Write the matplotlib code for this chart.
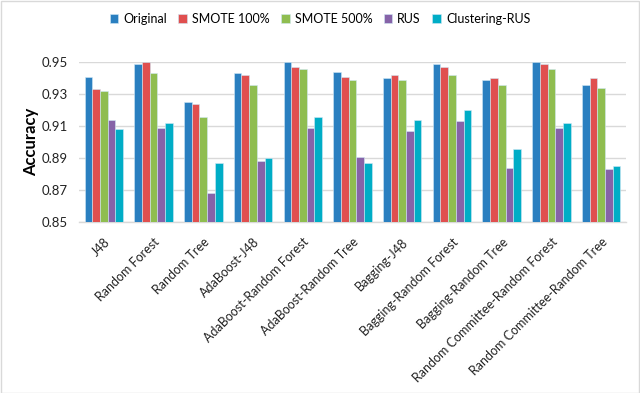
import numpy as np
import matplotlib
matplotlib.use("Agg")
import matplotlib.pyplot as plt
from matplotlib.patches import Rectangle

plt.rcParams['font.family'] = ['Lato', 'DejaVu Sans']

classifiers = ["J48", "Random Forest", "Random Tree", "AdaBoost-J48",
               "AdaBoost-Random Forest", "AdaBoost-Random Tree", "Bagging-J48",
               "Bagging-Random Forest", "Bagging-Random Tree",
               "Random Committee-Random Forest", "Random Committee-Random Tree"]

original   = [0.941, 0.949, 0.925, 0.943, 0.950, 0.944, 0.940, 0.949, 0.939, 0.950, 0.936]
smote100   = [0.933, 0.950, 0.924, 0.942, 0.947, 0.941, 0.942, 0.947, 0.940, 0.949, 0.940]
smote500   = [0.932, 0.943, 0.916, 0.936, 0.946, 0.939, 0.939, 0.942, 0.936, 0.946, 0.934]
rus        = [0.914, 0.909, 0.868, 0.888, 0.909, 0.891, 0.907, 0.913, 0.884, 0.909, 0.883]
cluster_rus = [0.908, 0.912, 0.887, 0.890, 0.916, 0.887, 0.914, 0.920, 0.896, 0.912, 0.885]

series = [("Original", original, "#2a7fc0"),
          ("SMOTE 100%", smote100, "#e04f4f"),
          ("SMOTE 500%", smote500, "#8fbd50"),
          ("RUS", rus, "#8663a8"),
          ("Clustering-RUS", cluster_rus, "#00adc6")]

fig = plt.figure(figsize=(6.4, 3.93), dpi=100)
ax = fig.add_axes([79/640, 1 - 222/393, (626-79)/640, (222-61.5)/393])

x = np.arange(len(classifiers))
w = 0.155
for i, (name, vals, col) in enumerate(series):
    ax.bar(x + (i - 2) * w, np.array(vals) - 0.85, w, bottom=0.85, color=col,
           edgecolor="#d0e8f5", linewidth=0.4, label=name, zorder=3)

ax.set_xlim(-0.5, len(classifiers) - 0.5)
ax.set_ylim(0.85, 0.9505)
ax.set_yticks([0.85, 0.87, 0.89, 0.91, 0.93, 0.95])
ax.set_yticklabels(["0.85", "0.87", "0.89", "0.91", "0.93", "0.95"])
ax.yaxis.grid(True, color="#d9d9d9", linewidth=1, zorder=0)
for s in ["top", "right", "left"]:
    ax.spines[s].set_visible(False)
ax.spines["bottom"].set_color("#d9d9d9")
ax.spines["bottom"].set_linewidth(1)
ax.tick_params(axis="both", length=0, labelsize=9.5, colors="#222222")
ax.tick_params(axis="y", pad=8)
ax.set_xticks(x)
ax.set_xticklabels(classifiers, rotation=45, ha="right", rotation_mode="anchor")
ax.tick_params(axis="x", pad=10, labelsize=9)
ax.set_ylabel("Accuracy", fontsize=12, fontweight="bold", labelpad=2)

fig.legend(loc="center", bbox_to_anchor=(0.5, 1 - 19/393), ncol=5, frameon=False,
           fontsize=9, handlelength=0.7, handleheight=0.7, handletextpad=0.4,
           columnspacing=0.9)

fig.patches.append(Rectangle((0.5/640, 0.5/393), 638/640, 391.5/393, transform=fig.transFigure,
                             fill=False, edgecolor="#d9d9d9", linewidth=1))

fig.savefig("out.png", dpi=100)
